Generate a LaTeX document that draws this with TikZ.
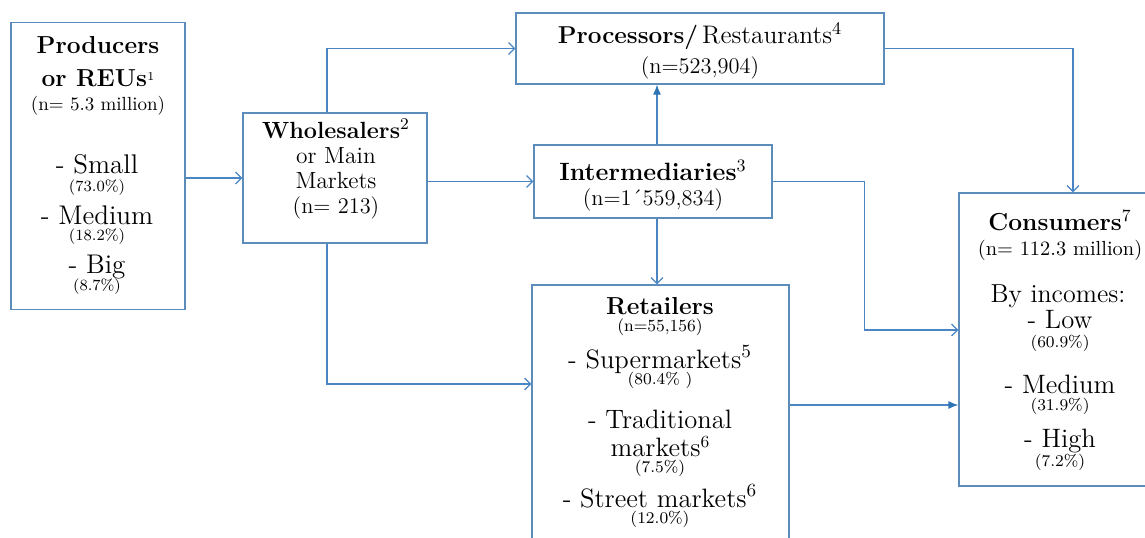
\documentclass[tikz,border=0pt]{standalone}
\usepackage{fontspec}
\usetikzlibrary{arrows.meta}
\definecolor{lineblue}{RGB}{74,134,196}
\definecolor{boxblue}{RGB}{92,140,186}
\definecolor{headblue}{RGB}{46,117,182}
\newcommand\fsz[1]{\fontsize{#1}{#1}\selectfont}
\tikzset{
  box/.style={draw=boxblue, line width=0.6pt, rectangle, inner sep=0pt},
  t/.style={anchor=base, inner sep=0pt, align=center},
  conn/.style={draw=lineblue, line width=0.6pt, -{Straight Barb[length=3pt,width=6pt]}},
  connf/.style={draw=lineblue, line width=0.6pt, -{Latex[length=5pt,width=4pt,color=headblue]}}
}
\begin{document}
\begin{tikzpicture}[x=0.5pt,y=-0.5pt]
\useasboundingbox (0,0) rectangle (1145,537);
% boxes
\node[box, minimum width=87pt, minimum height=143.5pt] (prod) at (98,166) {};
\node[box, minimum width=92pt, minimum height=65pt] (whole) at (335,178) {};
\node[box, minimum width=184pt, minimum height=35.5pt] (proc) at (700,48.5) {};
\node[box, minimum width=119pt, minimum height=36.5pt] (inter) at (653,181.5) {};
\node[box, minimum width=128.5pt, minimum height=132.5pt] (ret) at (660.5,417.5) {};
\node[box, minimum width=100pt, minimum height=146.5pt] (cons) at (1059,339.5) {};
% producers text
\node[t] (p1) at (98,53) {\fsz{12.3}\bfseries Producers};
\node[t] (p2) at (98,86) {\fsz{12.3}\bfseries or REUs\raisebox{3pt}{\fsz{6}\mdseries 1}};
\node[t] (p3) at (98,110) {\fsz{9.5}(n= 5.3 million)};
\node[t] (p4) at (97,173) {\fsz{13.5}- Small};
\node[t] (p5) at (97,191) {\fsz{7.8}(73.0\%)};
\node[t] (p6) at (97,224) {\fsz{13.5}- Medium};
\node[t] (p7) at (97,240) {\fsz{7.8}(18.2\%)};
\node[t] (p8) at (97,273) {\fsz{13.5}- Big};
\node[t] (p9) at (97,290) {\fsz{7.8}(8.7\%)};
% wholesalers text
\node[t] (w1) at (336,138) {\fsz{11.7}\textbf{Wholesalers}\textsuperscript{2}};
\node[t] (w2) at (336,163) {\fsz{11.7}or Main};
\node[t] (w3) at (336,188) {\fsz{11.7}Markets};
\node[t] (w4) at (336,213) {\fsz{11.2}(n= 213)};
% processors text
\node[t] (r1) at (700,43) {\fsz{12.2}\textbf{Processors/}\,{\fsz{12.7}Restaurants\textsuperscript{4}}};
\node[t] (r2) at (700,73) {\fsz{11.2}(n=523,904)};
% intermediaries text
\node[t] (i1) at (653,180) {\fsz{12.5}\textbf{Intermediaries}\textsuperscript{3}};
\node[t] (i2) at (653,205) {\fsz{11.2}(n=1´559,834)};
% retailers text
\node[t] (e1) at (660,314) {\fsz{12.3}\bfseries Retailers};
\node[t] (e2) at (660,331) {\fsz{8.5}(n=55,156)};
\node[t] (e3) at (660,368) {\fsz{13.3}- Supermarkets\textsuperscript{5}};
\node[t] (e4) at (660,384) {\fsz{8.2}(80.4\% )};
\node[t] (e5) at (660,428) {\fsz{13.3}- Traditional};
\node[t] (e6) at (660,456) {\fsz{13.3}markets\raisebox{4.5pt}{\fsz{8.5}6}};
\node[t] (e7) at (660,472) {\fsz{8.2}(7.5\%)};
\node[t] (e8) at (660,507) {\fsz{13.3}- Street markets\textsuperscript{6}};
\node[t] (e9) at (660,523) {\fsz{8.2}(12.0\%)};
% consumers text
\node[t] (c1) at (1060,230) {\fsz{12.3}\textbf{Consumers}\textsuperscript{7}};
\node[t] (c2) at (1060,255) {\fsz{10.2}(n= 112.3 million)};
\node[t] (c3) at (1058,302) {\fsz{13}By incomes:};
\node[t] (c4) at (1060,328) {\fsz{13.3}- Low};
\node[t] (c5) at (1060,347) {\fsz{8.2}(60.9\%)};
\node[t] (c6) at (1060,393) {\fsz{13.3}- Medium};
\node[t] (c7) at (1060,410) {\fsz{8.2}(31.9\%)};
\node[t] (c8) at (1060,447) {\fsz{13.3}- High};
\node[t] (c9) at (1060,466) {\fsz{8.2}(7.2\%)};
% connectors
\draw[conn] (prod.east |- whole.west) -- (whole.west);
\draw[conn] ([xshift=-4pt]whole.north) |- (proc.west);
\draw[conn] (whole.east |- inter.west) -- (inter.west);
\draw[conn] ([xshift=-4pt]whole.south) |- ([yshift=16.75pt]ret.west);
\draw[connf] ([xshift=2pt]inter.north) -- ([xshift=2pt]inter.north |- proc.south);
\draw[conn] ([xshift=2pt]inter.south) -- ([xshift=2pt]inter.south |- ret.north);
\draw[conn] (inter.east) -- ++(46pt,0) |- ([yshift=4.75pt]cons.west);
\draw[conn] (proc.east) -| ([xshift=7pt]cons.north);
\draw[connf] ([yshift=6.25pt]ret.east) -- ([yshift=6.25pt]ret.east -| cons.west);
\end{tikzpicture}
\end{document}
